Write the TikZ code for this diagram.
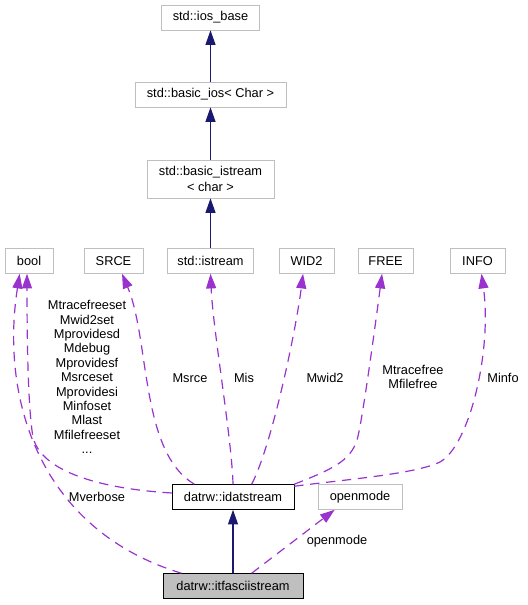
\documentclass[tikz,border=0pt]{standalone}
\usepackage{fontspec}
\setmainfont{Liberation Sans}
\usetikzlibrary{arrows.meta}
\definecolor{edgenavy}{HTML}{191970}
\definecolor{edgepurple}{HTML}{9A32CD}
\definecolor{boxgray}{HTML}{BFBFBF}
\newcommand{\graphfont}{\fontsize{9.6}{10.8}\selectfont}

\begin{document}
\begin{tikzpicture}[x=0.75pt, y=-0.75pt,
    classbox/.style={draw=boxgray, fill=white, font=\graphfont, inner sep=0pt, minimum height=18.75pt, align=center},
    inherit/.style={edgenavy, line width=0.9pt, -{Triangle[length=11pt, width=7.5pt]}},
    member/.style={edgepurple, line width=0.9pt, dash pattern=on 7pt off 5pt, -{Triangle[length=11pt, width=7.5pt]}},
    memberlabel/.style={font=\graphfont, inner sep=0pt, align=center}]
              \useasboundingbox (0,0) rectangle (527,605);
              % Stream base classes
              \node[classbox, minimum width=73.5pt] (iosbase) at (210.5,17.5) {std::ios\_base};
              \node[classbox, minimum width=113.25pt] (basicios) at (210.5,94.5) {std::basic\_ios< Char >};
              \node[classbox, minimum width=95.25pt, minimum height=28.5pt] (basicistream) at (210.5,179) {std::basic\_istream\\[0.8pt]< char >};
              % Member types
              \node[classbox, minimum width=36pt] (bool) at (29,261) {bool};
              \node[classbox, minimum width=44.25pt] (srce) at (113.5,261) {SRCE};
              \node[classbox, minimum width=64.5pt] (istream) at (210.5,261) {std::istream};
              \node[classbox, minimum width=41.25pt] (widtwo) at (306.5,261) {WID2};
              \node[classbox, minimum width=41.25pt] (free) at (385.5,261) {FREE};
              \node[classbox, minimum width=41.25pt] (info) at (477.5,261) {INFO};
              % Stream classes
              \node[classbox, draw=black, minimum width=91.5pt] (idat) at (233,497) {datrw::idatstream};
              \node[classbox, minimum width=63pt] (openmode) at (360,497) {openmode};
              \node[classbox, draw=black, fill=boxgray, minimum width=105pt] (itf) at (233,586) {datrw::itfasciistream};
              % Inheritance
              \draw[inherit] (basicios) -- (iosbase);
              \draw[inherit] (basicistream) -- (basicios);
              \draw[inherit] (istream) -- (basicistream);
              \draw[inherit] (itf) -- (idat);
              % Members of datrw::idatstream
              \draw[member] ([yshift=3pt]idat.west) .. controls (90,488) and (40,468) .. (33,437) .. controls (28,409) and (27,340) .. ([xshift=-1.5pt]bool.south);
              \draw[member] ([xshift=17pt]idat.north west) .. controls (140,452) and (150,340) .. ([xshift=6.4pt]srce.south);
              \draw[member] (idat.north) .. controls (232,440) and (213,330) .. (istream.south);
              \draw[member] ([xshift=14pt]idat.north) .. controls (272,445) and (296,330) .. ([xshift=-2.6pt]widtwo.south);
              \draw[member] (idat.north east) .. controls (330,470) and (350,462) .. (357,440) .. controls (362,424) and (376,320) .. ([xshift=-2.6pt]free.south);
              \draw[member] ([yshift=-1.5pt]idat.north east) .. controls (350,479) and (415,474) .. (440,462) .. controls (470,445) and (492,350) .. ([xshift=3pt]info.south);
              % Members of datrw::itfasciistream
              \draw[member] ([xshift=14pt]itf.north west) .. controls (40,530) and (0,400) .. ([xshift=-7pt]bool.south);
              \draw[member] ([xshift=14pt]itf.north) -- ([xshift=-19pt]openmode.south);
              % Edge labels
              \node[memberlabel] (boollabel) at (87,377) {Mtracefreeset\\Mwid2set\\Mprovidesd\\Mdebug\\Mprovidesf\\Msrceset\\Mprovidesi\\Minfoset\\Mlast\\Mfilefreeset\\...};
              \node[memberlabel] (srcelabel) at (190,378) {Msrce};
              \node[memberlabel] (islabel) at (244,378) {Mis};
              \node[memberlabel] (widtwolabel) at (325,378) {Mwid2};
              \node[memberlabel] (freelabel) at (413,377) {Mtracefree\\Mfilefree};
              \node[memberlabel] (infolabel) at (503,378) {Minfo};
              \node[memberlabel] (verboselabel) at (97,497) {Mverbose};
              \node[memberlabel] (openmodelabel) at (337,541) {openmode};
      \end{tikzpicture}
\end{document}
